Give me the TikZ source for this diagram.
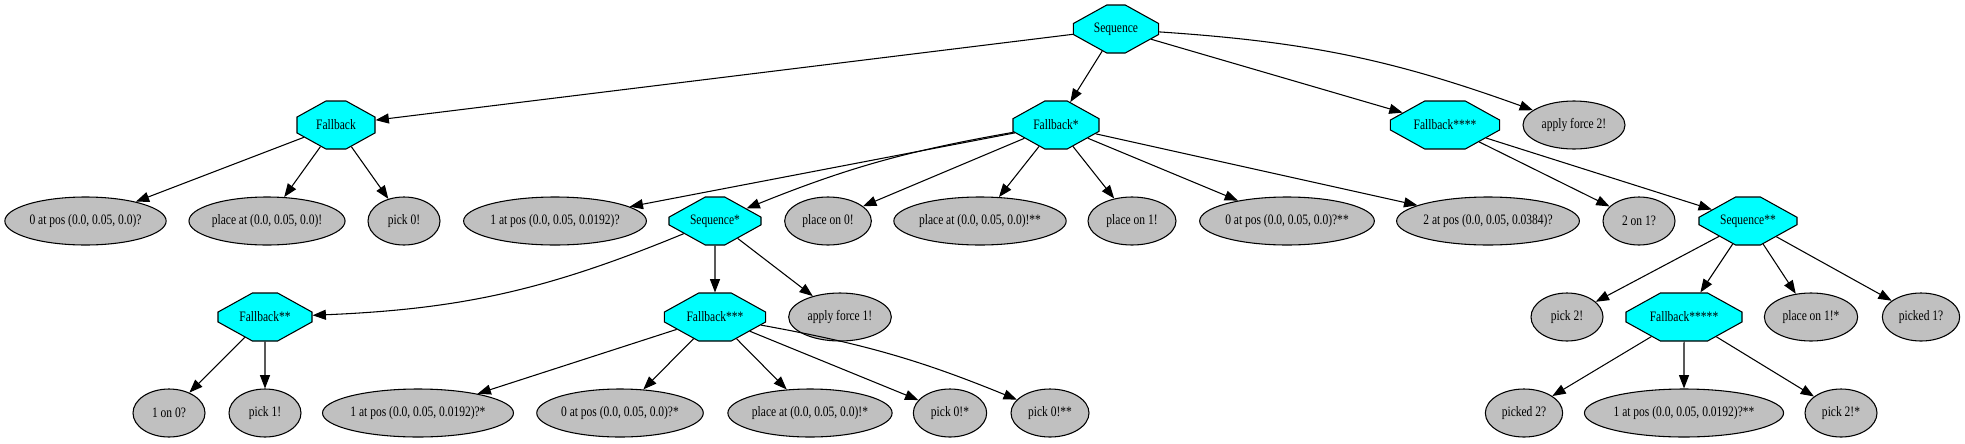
\documentclass[tikz,border=0pt]{standalone}
\usepackage{fontspec}
\setmainfont[FakeStretch=0.8]{Liberation Serif}
\usetikzlibrary{arrows.meta,shapes.misc,shapes.geometric}
\definecolor{aqua}{HTML}{00FFFF}
\definecolor{silver}{HTML}{C0C0C0}

\begin{document}
\begin{tikzpicture}[x=0.75pt,y=-0.75pt,line width=0.8pt,
  >={Triangle[length=10pt,width=7.5pt]},
  every node/.style={font=\fontsize{10.8pt}{13pt}\selectfont},
  ctrl/.style={chamfered rectangle,chamfered rectangle angle=61,chamfered rectangle sep=10.5pt,draw,fill=aqua,inner sep=0pt,minimum height=36pt},
  task/.style={ellipse,draw,fill=silver,inner sep=0pt,minimum height=36pt}]
  \useasboundingbox (0,0) rectangle (1965,443);
  \node[ctrl,minimum width=64pt] (0) at (1116,29) {Sequence};
  \node[ctrl,minimum width=58.5pt] (1) at (336,125) {Fallback};
  \node[ctrl,minimum width=64.5pt] (2) at (1056,125) {Fallback*};
  \node[ctrl,minimum width=82pt] (3) at (1445,125) {Fallback****};
  \node[task,minimum width=76.5pt] (4) at (1574,125) {apply force 2!};
  \node[task,minimum width=121pt] (5) at (85.5,221) {0 at pos (0.0, 0.05, 0.0)?};
  \node[task,minimum width=116pt] (6) at (267,221) {place at (0.0, 0.05, 0.0)!};
  \node[task,minimum width=54pt] (7) at (404,221) {pick 0!};
  \node[task,minimum width=136pt] (8) at (555,221) {1 at pos (0.0, 0.05, 0.0192)?};
  \node[ctrl,minimum width=69pt] (9) at (715,221) {Sequence*};
  \node[task,minimum width=65pt] (10) at (828,221) {place on 0!};
  \node[task,minimum width=127.5pt] (11) at (980,221) {place at (0.0, 0.05, 0.0)!**};
  \node[task,minimum width=66pt] (12) at (1132,221) {place on 1!};
  \node[task,minimum width=131pt] (13) at (1287,221) {0 at pos (0.0, 0.05, 0.0)?**};
  \node[task,minimum width=136pt] (14) at (1488,221) {2 at pos (0.0, 0.05, 0.0384)?};
  \node[task,minimum width=54pt] (15) at (1639,221) {2 on 1?};
  \node[ctrl,minimum width=73.5pt] (16) at (1748,221) {Sequence**};
  \node[ctrl,minimum width=70.5pt] (17) at (265,317) {Fallback**};
  \node[ctrl,minimum width=76pt] (18) at (715,317) {Fallback***};
  \node[task,minimum width=77pt] (19) at (840,317) {apply force 1!};
  \node[task,minimum width=54pt] (20) at (1567,317) {pick 2!};
  \node[ctrl,minimum width=87pt] (21) at (1684,317) {Fallback*****};
  \node[task,minimum width=70pt] (22) at (1811,317) {place on 1!*};
  \node[task,minimum width=58pt] (23) at (1921,317) {picked 1?};
  \node[task,minimum width=54pt] (24) at (169,413) {1 on 0?};
  \node[task,minimum width=54pt] (25) at (265,413) {pick 1!};
  \node[task,minimum width=142pt] (26) at (418,413) {1 at pos (0.0, 0.05, 0.0192)?*};
  \node[task,minimum width=124.5pt] (27) at (620,413) {0 at pos (0.0, 0.05, 0.0)?*};
  \node[task,minimum width=123pt] (28) at (810,413) {place at (0.0, 0.05, 0.0)!*};
  \node[task,minimum width=55pt] (29) at (950,413) {pick 0!*};
  \node[task,minimum width=58.5pt] (30) at (1050,413) {pick 0!**};
  \node[task,minimum width=58pt] (31) at (1524,413) {picked 2?};
  \node[task,minimum width=147pt] (32) at (1684,413) {1 at pos (0.0, 0.05, 0.0192)?**};
  \node[task,minimum width=54pt] (33) at (1841,413) {pick 2!*};
  \draw[->] (0) -- (1);
  \draw[->] (0) -- (2);
  \draw[->] (0) -- (3);
  \draw[->] (0) to[bend left=8] (4);
  \draw[->] (1) -- (5);
  \draw[->] (1) -- (6);
  \draw[->] (1) -- (7);
  \draw[->] (2) -- (8);
  \draw[->] (2) to[bend right=6] (9);
  \draw[->] (2) -- (10);
  \draw[->] (2) -- (11);
  \draw[->] (2) -- (12);
  \draw[->] (2) -- (13);
  \draw[->] (2) -- (14);
  \draw[->] (9) to[bend left=10] (17);
  \draw[->] (9) -- (18);
  \draw[->] (9) -- (19);
  \draw[->] (17) -- (24);
  \draw[->] (17) -- (25);
  \draw[->] (18) -- (26);
  \draw[->] (18) -- (27);
  \draw[->] (18) -- (28);
  \draw[->] (18) -- (29);
  \draw[->] (18) to[bend left=6] (30);
  \draw[->] (3) -- (15);
  \draw[->] (3) -- (16);
  \draw[->] (16) -- (20);
  \draw[->] (16) -- (21);
  \draw[->] (16) -- (22);
  \draw[->] (16) -- (23);
  \draw[->] (21) -- (31);
  \draw[->] (21) -- (32);
  \draw[->] (21) -- (33);
\end{tikzpicture}
\end{document}
